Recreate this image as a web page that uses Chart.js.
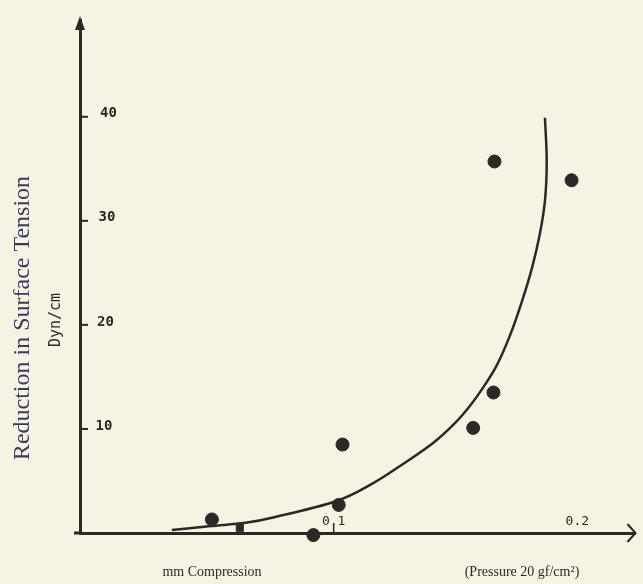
<!DOCTYPE html>
<html>
<head>
<meta charset="utf-8">
<script src="https://cdn.jsdelivr.net/npm/chart.js@4.4.1/dist/chart.umd.min.js"></script>
<style>
  html, body { margin: 0; padding: 0; background: #f7f3e4; }
  canvas { display: block; }
</style>
</head>
<body>
<canvas id="chart" width="643" height="584"></canvas>
<script>
  // ── Data ─────────────────────────────────────────────────────────

  // measured points
  var pointX = [0.052, 0.092, 0.1035, 0.102, 0.155, 0.163, 0.1634, 0.1938];
  var pointY = [1.3, -0.2, 8.5, 2.7, 10.1, 13.5, 35.7, 33.9];

  // the single square marker sitting on the axis
  var squareX = [0.063];
  var squareY = [0.5];

  // hand-drawn fitted curve
  var curveX = [0.0362, 0.0517, 0.0646, 0.0802, 0.1012, 0.1144, 0.1268, 0.1397, 0.1479, 0.1537,
                0.1591, 0.1642, 0.1696, 0.1743, 0.1782, 0.1813, 0.1833, 0.1840, 0.1833];
  var curveY = [0.29, 0.67, 0.96, 1.73, 3.08, 4.62, 6.54, 8.75, 10.58, 12.21,
                14.04, 16.06, 19.04, 22.31, 25.48, 28.75, 31.92, 35.77, 39.9];

  // tick labels
  var yTicks = [10, 20, 30, 40];
  var xTicks = [0.1, 0.2];
  var xTickLabels = ['0.1', '0.2'];

  var INK = '#2a2926';
  var PAPER = '#f7f3e4';

  function toXY(xs, ys) {
    return xs.map(function (x, i) { return { x: x, y: ys[i] }; });
  }

  // ── Paper, arrows, ticks and labels ──────────────────────────────

  var paperPlugin = {
    id: 'paper',
    beforeDraw: function (chart) {
      var ctx = chart.ctx;
      ctx.save();
      ctx.fillStyle = PAPER;
      ctx.fillRect(0, 0, chart.width, chart.height);
      ctx.restore();
    },
    afterDraw: function (chart) {
      var ctx = chart.ctx;
      var xs = chart.scales.x;
      var ys = chart.scales.y;
      var left = xs.getPixelForValue(0);
      var bottom = ys.getPixelForValue(0);
      var top = ys.getPixelForValue(ys.max);
      var right = xs.getPixelForValue(xs.max);

      ctx.save();
      ctx.strokeStyle = INK;
      ctx.fillStyle = INK;

      // x axis stub left of the y axis
      ctx.lineWidth = 3;
      ctx.beginPath();
      ctx.moveTo(left - 6, bottom);
      ctx.lineTo(left, bottom);
      ctx.stroke();

      // y arrow (filled)
      ctx.beginPath();
      ctx.moveTo(left, top - 4);
      ctx.lineTo(left - 5, top + 10);
      ctx.lineTo(left + 5, top + 10);
      ctx.closePath();
      ctx.fill();

      // x arrow (open chevron)
      ctx.lineWidth = 2;
      ctx.beginPath();
      ctx.moveTo(right - 8, bottom - 9);
      ctx.lineTo(right, bottom);
      ctx.lineTo(right - 8, bottom + 9);
      ctx.stroke();

      // y tick marks, inside the plot
      ctx.lineWidth = 2;
      yTicks.forEach(function (v) {
        var py = ys.getPixelForValue(v);
        ctx.beginPath();
        ctx.moveTo(left, py);
        ctx.lineTo(left + 8, py);
        ctx.stroke();
      });

      // x tick mark at 0.1
      ctx.lineWidth = 1.5;
      var p1 = xs.getPixelForValue(xTicks[0]);
      ctx.beginPath();
      ctx.moveTo(p1, bottom);
      ctx.lineTo(p1, bottom - 9);
      ctx.stroke();

      // y tick labels
      ctx.font = 'bold 14px "DejaVu Sans Mono"';
      ctx.textAlign = 'left';
      ctx.textBaseline = 'middle';
      yTicks.forEach(function (v) {
        ctx.fillText(String(v), left + 14 + v * 0.15, ys.getPixelForValue(v) - 3);
      });

      // x tick labels, above the axis
      var xShift = [0, -10];
      ctx.font = '13px "DejaVu Sans Mono"';
      ctx.textAlign = 'center';
      ctx.textBaseline = 'alphabetic';
      xTicks.forEach(function (v, i) {
        ctx.fillText(xTickLabels[i], xs.getPixelForValue(v) + xShift[i], bottom - 8);
      });

      // axis titles
      ctx.fillStyle = '#3b3b58';
      ctx.font = '24px "Liberation Serif"';
      ctx.save();
      ctx.translate(29, 318);
      ctx.rotate(-Math.PI / 2);
      ctx.textBaseline = 'alphabetic';
      ctx.fillText('Reduction in Surface Tension', 0, 0);
      ctx.restore();

      ctx.fillStyle = INK;
      ctx.font = '15px "DejaVu Sans Mono"';
      ctx.save();
      ctx.translate(60, 320);
      ctx.rotate(-Math.PI / 2);
      ctx.textBaseline = 'alphabetic';
      ctx.fillText('Dyn/cm', 0, 0);
      ctx.restore();

      ctx.font = '14px "Liberation Serif"';
      ctx.textBaseline = 'middle';
      ctx.fillText('mm Compression', 212, 572);
      ctx.fillText('(Pressure 20 gf/cm\u00b2)', 522, 572);

      ctx.restore();
    }
  };

  // ── Chart ────────────────────────────────────────────────────────

  new Chart(document.getElementById('chart'), {
    type: 'line',
    data: {
      datasets: [
        {
          label: 'Curve',
          data: toXY(curveX, curveY),
          indexAxis: 'y',
          cubicInterpolationMode: 'monotone',
          borderColor: INK,
          borderWidth: 2.5,
          pointRadius: 0,
          fill: false,
          clip: false
        },
        {
          label: 'Measured',
          data: toXY(pointX, pointY),
          showLine: false,
          backgroundColor: INK,
          borderColor: INK,
          pointRadius: 6.5,
          clip: false
        },
        {
          label: 'Square',
          data: toXY(squareX, squareY),
          showLine: false,
          pointStyle: 'rect',
          backgroundColor: INK,
          borderColor: INK,
          pointRadius: 5,
          clip: false
        }
      ]
    },
    options: {
      responsive: false,
      animation: false,
      events: [],
      layout: { padding: { left: 80, right: 3, top: 20, bottom: 51 } },
      plugins: {
        legend: { display: false },
        tooltip: { enabled: false }
      },
      scales: {
        x: {
          type: 'linear',
          min: 0,
          max: 0.219,
          afterFit: function (scale) { scale.height = 0; },
          ticks: { display: false },
          grid: { display: false },
          border: { display: true, color: INK, width: 3 }
        },
        y: {
          type: 'linear',
          min: 0,
          max: 49.3,
          afterFit: function (scale) { scale.width = 0; },
          ticks: { display: false },
          grid: { display: false },
          border: { display: true, color: INK, width: 3 }
        }
      }
    },
    plugins: [paperPlugin]
  });
</script>
</body>
</html>
